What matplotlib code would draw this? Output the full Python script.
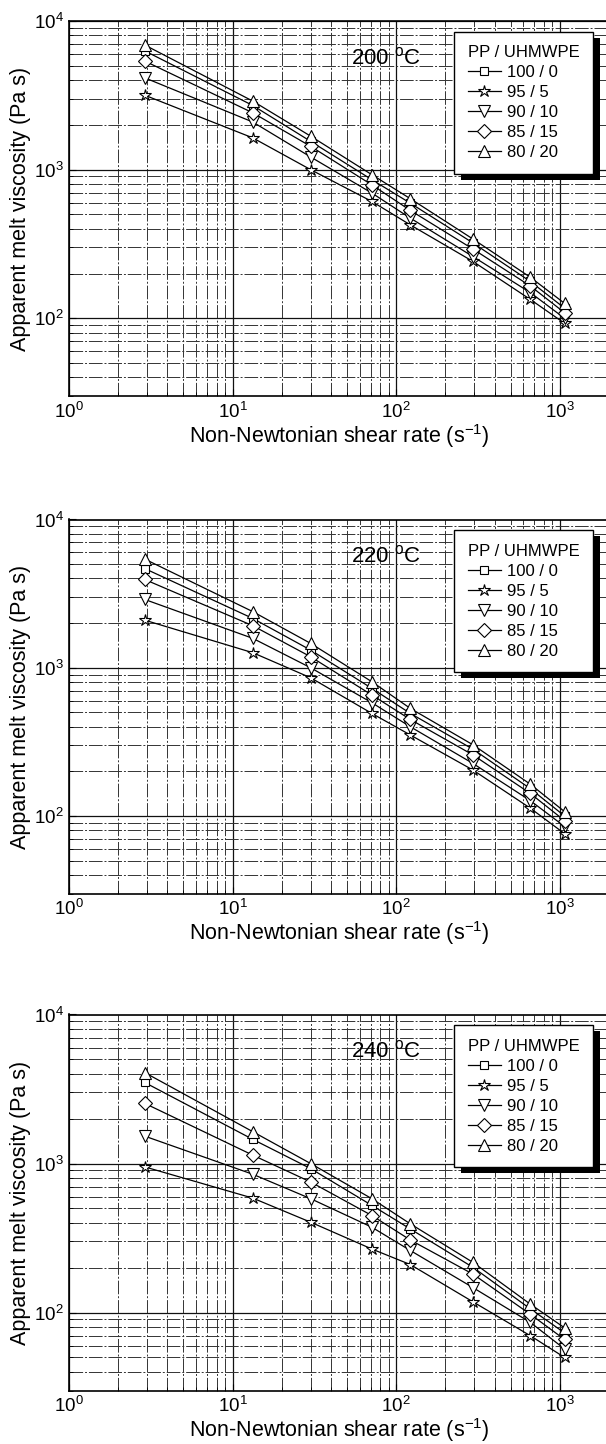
import matplotlib
matplotlib.use("Agg")
import matplotlib.pyplot as plt
from matplotlib.patches import Rectangle

plt.rcParams['font.family'] = ['Liberation Sans', 'DejaVu Sans']
plt.rcParams['mathtext.fontset'] = 'custom'
plt.rcParams['mathtext.rm'] = 'Liberation Sans'
plt.rcParams['mathtext.it'] = 'Liberation Sans:italic'
plt.rcParams['mathtext.bf'] = 'Liberation Sans:bold'

# shear rate points (s^-1), same for all blends
shear_rate = [2.9, 13.3, 30, 71, 122, 295, 660, 1070]

blends = ["100 / 0", "95 / 5", "90 / 10", "85 / 15", "80 / 20"]
temps = ["200", "220", "240"]

# apparent melt viscosity (Pa s)
visc_200 = {
    "100 / 0": [6300, 2700, 1550, 856, 595, 321, 177, 117],
    "95 / 5":  [3170, 1635, 1000, 611, 425, 241, 134, 92.5],
    "90 / 10": [4150, 2090, 1217, 696, 472, 260, 149, 100],
    "85 / 15": [5380, 2410, 1435, 790, 532, 292, 165, 109],
    "80 / 20": [6900, 2890, 1680, 925, 638, 341, 189, 126],
}
visc_220 = {
    "100 / 0": [4670, 2150, 1316, 726, 492, 282, 153, 100],
    "95 / 5":  [2095, 1263, 856, 492, 352, 204, 113, 76],
    "90 / 10": [2890, 1578, 1000, 581, 400, 226, 127, 85],
    "85 / 15": [3940, 1920, 1186, 655, 448, 258, 142, 93],
    "80 / 20": [5410, 2390, 1460, 805, 532, 302, 164, 107],
}
visc_240 = {
    "100 / 0": [3500, 1452, 925, 524, 364, 201, 106, 73],
    "95 / 5":  [950, 586, 404, 267, 210, 118, 70, 50],
    "90 / 10": [1528, 847, 581, 374, 261, 147, 86, 57],
    "85 / 15": [2535, 1138, 752, 448, 307, 181, 97.5, 66],
    "80 / 20": [4080, 1635, 1000, 581, 394, 217, 114, 79],
}
all_visc = [visc_200, visc_220, visc_240]

markers = {"100 / 0": ('s', 5.5), "95 / 5": ('*', 9), "90 / 10": ('v', 8),
           "85 / 15": ('D', 7), "80 / 20": ('^', 8)}

W, H = 606, 1444
fig = plt.figure(figsize=(W / 100, H / 100), dpi=100)

left_px = 69
right_px = 609
panel_px = [(21, 396), (519.5, 893.5), (1014.5, 1390.5)]

axes = []
for (top, bot), temp, visc in zip(panel_px, temps, all_visc):
    ax = fig.add_axes([left_px / W, (H - bot) / H, (right_px - left_px) / W, (bot - top) / H])
    axes.append(ax)
    for b in blends:
        m, ms = markers[b]
        ax.plot(shear_rate, visc[b], color='black', lw=0.9, marker=m, ms=ms,
                mfc='white', mec='black', mew=0.8, label=b)
    ax.set_xscale('log')
    ax.set_yscale('log')
    ax.set_xlim(1, 2000)
    ax.set_ylim(30, 1e4)
    ax.grid(True, which='major', color='#111111', lw=0.9, ls='-')
    ax.grid(True, which='minor', color='#333333', lw=0.7, ls=(0, (14, 2, 2, 2)))
    ax.set_axisbelow(True)
    ax.tick_params(which='both', direction='in', top=False, right=False, labelsize=13.5, pad=4)
    ax.tick_params(which='major', length=5, width=0.8)
    ax.tick_params(which='minor', length=3, width=0.6)
    for s in ax.spines.values():
        s.set_linewidth(1.2)
    ax.set_xlabel("Non-Newtonian shear rate (s$^{-1}$)", fontsize=15.5, labelpad=0)
    ax.set_ylabel("Apparent melt viscosity (Pa s)", fontsize=15.5, labelpad=2)
    ax.text(0.522, 0.901, temp + r" $^{\mathrm{o}}$C", transform=ax.transAxes,
            fontsize=16, ha='left', va='center')
    leg = ax.legend(title="PP / UHMWPE", loc='upper right', bbox_to_anchor=(0.970, 0.971),
                    borderaxespad=0, fontsize=12, title_fontsize=12, fancybox=False,
                    framealpha=1, edgecolor='black', handlelength=2.0, handletextpad=0.35,
                    labelspacing=0.3, borderpad=0.8, alignment='left')
    leg.get_frame().set_linewidth(1.0)
    leg.set_zorder(6)

# black drop shadow behind each legend box
fig.canvas.draw()
inv = fig.transFigure.inverted()
for ax in axes:
    leg = ax.get_legend()
    bb = leg.get_frame().get_window_extent()
    (x0, y0), (x1, y1) = inv.transform([[bb.x0 + 7, bb.y0 - 6], [bb.x1 + 7, bb.y1 - 6]])
    ax.add_patch(Rectangle((x0, y0), x1 - x0, y1 - y0, transform=fig.transFigure,
                           facecolor='black', edgecolor='none', zorder=5.5, clip_on=False))

fig.savefig("out.png", dpi=100)
